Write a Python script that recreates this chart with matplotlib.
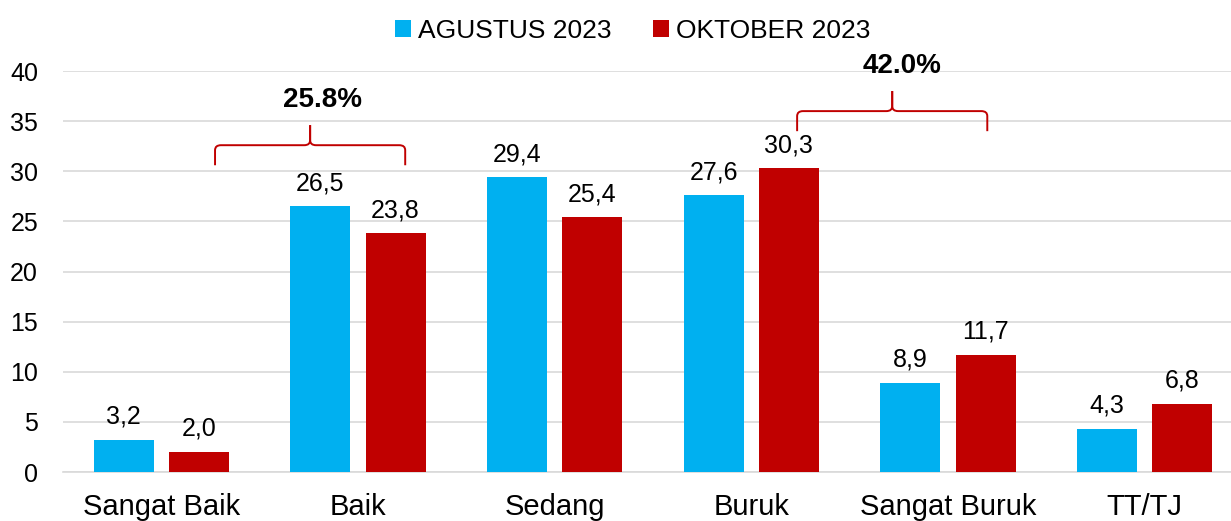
import matplotlib
matplotlib.use("Agg")
import matplotlib.pyplot as plt
import numpy as np
from matplotlib.path import Path
from matplotlib.patches import PathPatch

categories = ["Sangat Baik", "Baik", "Sedang", "Buruk", "Sangat Buruk", "TT/TJ"]
agustus = [3.2, 26.5, 29.4, 27.6, 8.9, 4.3]
oktober = [2.0, 23.8, 25.4, 30.3, 11.7, 6.8]
series_names = ["AGUSTUS 2023", "OKTOBER 2023"]
group_labels = ["25.8%", "42.0%"]

plt.rcParams['font.family'] = ['Liberation Sans', 'DejaVu Sans']

blue = "#00b0f0"
red = "#c00000"

fig = plt.figure(figsize=(12.31, 5.21), dpi=100)
ax = fig.add_axes([0.0512, 0.094, 0.9585, 0.7697])

x = np.arange(len(categories))
w = 0.305
off = 0.191
b1 = ax.bar(x - off, agustus, w, color=blue, label=series_names[0], zorder=3)
b2 = ax.bar(x + off, oktober, w, color=red, label=series_names[1], zorder=3)

for xi, v in zip(x - off, agustus):
    ax.annotate(f"{v:.1f}".replace(".", ","), (xi, v), xytext=(0, 8), textcoords="offset points",
                ha="center", va="bottom", fontsize=18, color="#000000")
for xi, v in zip(x + off, oktober):
    ax.annotate(f"{v:.1f}".replace(".", ","), (xi, v), xytext=(0, 8), textcoords="offset points",
                ha="center", va="bottom", fontsize=18, color="#000000")

ax.set_xlim(-0.5, len(categories) - 0.5)
ax.set_ylim(0, 40)
ax.set_yticks(np.arange(0, 41, 5))
ax.yaxis.grid(True, color="#d9d9d9", linewidth=1.2, zorder=0)
ax.set_axisbelow(True)
for s in ["top", "right", "left"]:
    ax.spines[s].set_visible(False)
ax.spines["bottom"].set_color("#d9d9d9")
ax.spines["bottom"].set_linewidth(1.2)
ax.tick_params(axis="both", length=0)
ax.tick_params(axis="y", labelsize=18, pad=18)
ax.set_xticks(x)
ax.set_xticklabels(categories, fontsize=21)
ax.tick_params(axis="x", pad=15)


def brace(ax, x0, x1, ybase, yend, ypeak, color=red):
    xm = (x0 + x1) / 2
    r = 0.03
    dy = (ybase - yend) * 0.25
    verts = [
        (x0, yend), (x0, ybase - dy), (x0, ybase), (x0 + r, ybase),
        (xm - r, ybase), (xm, ybase), (xm, ybase + dy), (xm, ypeak),
    ]
    codes = [Path.MOVETO, Path.LINETO, Path.CURVE3, Path.CURVE3,
             Path.LINETO, Path.CURVE3, Path.CURVE3, Path.LINETO]
    verts2 = [
        (x1, yend), (x1, ybase - dy), (x1, ybase), (x1 - r, ybase),
        (xm + r, ybase), (xm, ybase), (xm, ybase + dy), (xm, ypeak),
    ]
    for vv in (verts, verts2):
        p = PathPatch(Path(vv, codes), fill=False, edgecolor=color, linewidth=1.4, clip_on=False, zorder=4)
        ax.add_patch(p)

brace(ax, 0.273, 1.240, 32.6, 30.6, 34.6)
ax.text(0.817, 37.1, group_labels[0], ha="center", va="center", fontsize=20, fontweight="bold", clip_on=False)
brace(ax, 3.233, 4.200, 36.0, 34.0, 38.0)
ax.text(3.768, 40.5, group_labels[1], ha="center", va="center", fontsize=20, fontweight="bold", clip_on=False)

fig.legend(handles=[b1, b2], labels=series_names, loc="upper center", bbox_to_anchor=(0.514, 1.01),
           ncol=2, frameon=False, fontsize=19, handlelength=0.6, handleheight=0.6,
           handletextpad=0.25, columnspacing=1.6)

fig.savefig("out.png", dpi=100)
